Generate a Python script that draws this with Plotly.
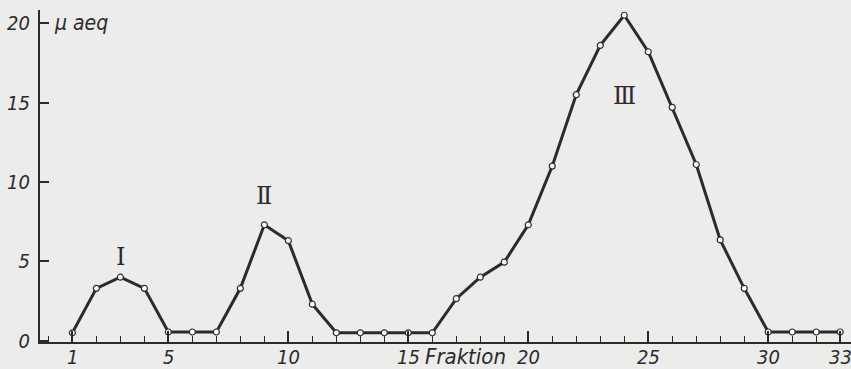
import plotly.graph_objects as go

fraction = list(range(1, 34))
ueq = [0.5, 3.3, 4.0, 3.3, 0.55, 0.55, 0.55, 3.3, 7.3, 6.3, 2.3,
       0.5, 0.5, 0.5, 0.5, 0.5, 2.65, 4.0, 4.95, 7.3, 11.0, 15.5,
       18.6, 20.5, 18.2, 14.7, 11.1, 6.35, 3.3, 0.55, 0.55, 0.55, 0.55]

x_tickvals = [1, 5, 10, 15, 20, 25, 30, 33]
x_ticktext = ["1", "5", "10", "15", "20", "25", "30", "33"]
y_tickvals = [0, 5, 10, 15, 20]
y_ticktext = ["0", "5", "10", "15", "20"]

peak_labels = ["Ⅰ", "Ⅱ", "Ⅲ"]
peak_x = [3, 9, 24]
peak_y = [5.3, 9.1, 15.4]

ink = "#2b2b2b"
fam = "DejaVu Sans Condensed, DejaVu Sans"
font_it = dict(family=fam, size=20, color=ink, style="italic")

fig = go.Figure()
fig.add_trace(go.Scatter(
    x=fraction, y=ueq, mode="lines+markers",
    line=dict(color=ink, width=3),
    marker=dict(symbol="circle", size=6, color="white", line=dict(color=ink, width=1.2)),
    showlegend=False, hoverinfo="skip"))

for t, px, py in zip(peak_labels, peak_x, peak_y):
    fig.add_annotation(x=px, y=py, text=t, showarrow=False,
                       font=dict(family="DejaVu Serif", size=24, color=ink))

# x tick labels (drawn as annotations so the last one is not clipped)
for v, t in zip(x_tickvals, x_ticktext):
    fig.add_annotation(x=v, y=0, yref="paper", text=t, showarrow=False,
                       xanchor="center", yanchor="top", yshift=-1, font=font_it)

fig.add_annotation(x=0.15, y=20, xanchor="left", yanchor="middle", text="μ aeq",
                   showarrow=False, font=dict(family=fam, size=21, color=ink, style="italic"))
fig.add_annotation(x=17.4, y=0, yref="paper", xanchor="center", yanchor="top",
                   text="Fraktion", showarrow=False, yshift=0,
                   font=dict(family=fam, size=22, color=ink, style="italic"))

fig.update_layout(
    width=851, height=369,
    margin=dict(l=40, r=0, t=10, b=27),
    paper_bgcolor="#ececeb", plot_bgcolor="#ececeb",
    xaxis=dict(range=[-0.35, 33.45], tickvals=x_tickvals, showticklabels=False,
               ticks="inside", ticklen=11, tickwidth=1.5, tickcolor=ink,
               minor=dict(dtick=1, tick0=1, ticks="inside", ticklen=6, tickwidth=1.2, tickcolor=ink),
               showline=True, linecolor=ink, linewidth=2, showgrid=False, zeroline=False,
               automargin=False),
    yaxis=dict(range=[-0.08, 20.83], tickvals=y_tickvals, ticktext=y_ticktext,
               ticks="inside", ticklen=9, tickwidth=1.5, tickcolor=ink,
               showline=True, linecolor=ink, linewidth=2, showgrid=False, zeroline=False,
               tickfont=font_it, ticklabelstandoff=4, automargin=False),
)
fig.write_html("out.html")
